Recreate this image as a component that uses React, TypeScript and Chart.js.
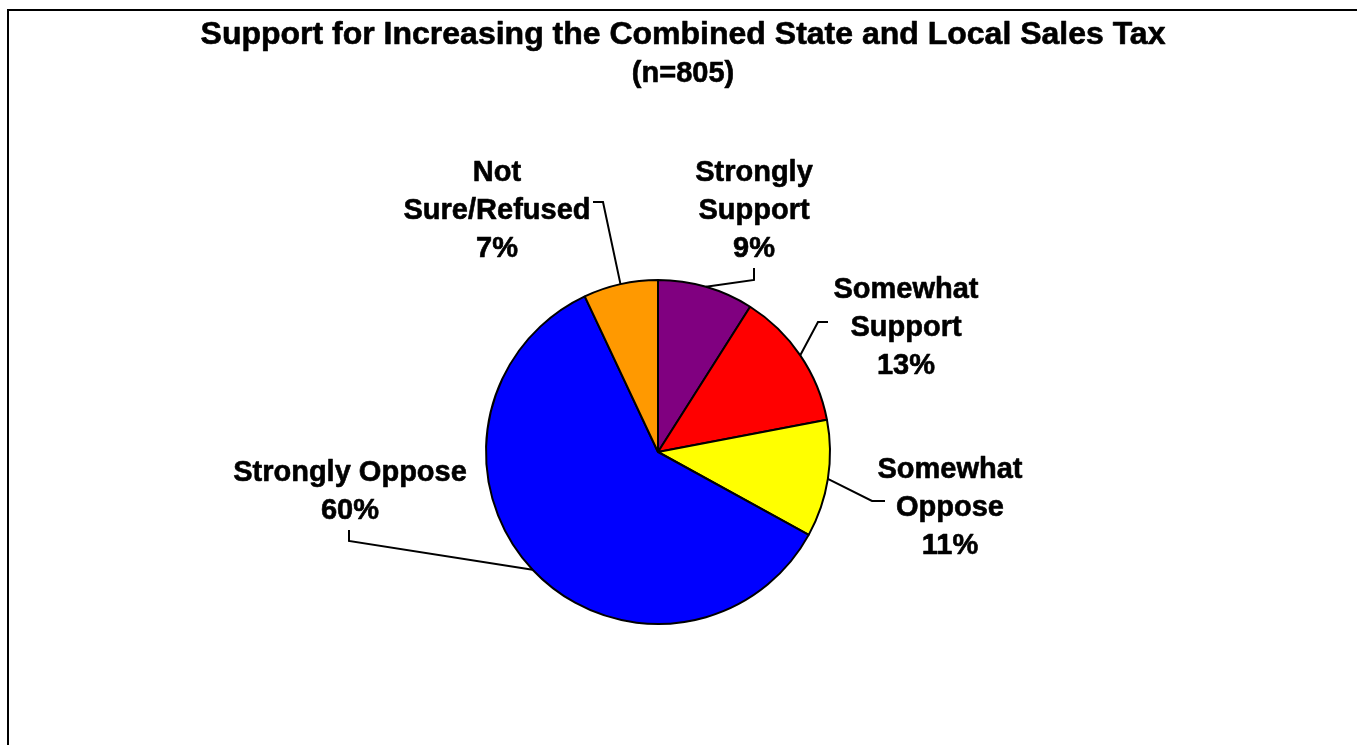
import React, { useEffect, useRef } from "react";
import { Chart, registerables } from "chart.js";

Chart.register(...registerables);

// ---- Data ----
const TITLE = "Support for Increasing the Combined State and Local Sales Tax";
const SUBTITLE = "(n=805)";
const categories = ["Strongly Support", "Somewhat Support", "Somewhat Oppose", "Strongly Oppose", "Not Sure/Refused"];
const categoryLines = [
  ["Strongly", "Support"],
  ["Somewhat", "Support"],
  ["Somewhat", "Oppose"],
  ["Strongly Oppose"],
  ["Not", "Sure/Refused"],
];
const values = [9, 13, 11, 60, 7];
const colors = ["#800080", "#FF0000", "#FFFF00", "#0000FF", "#FF9900"];

// ---- Layout (offsets from pie centre, px) ----
const labelCenter = [
  [96, -243],
  [248, -126],
  [292, 54],
  [-308, 37.5],
  [-161, -243],
];
const leaderElbow = [
  [96, -172],
  [160, -130],
  [214, 49],
  [-309, 89],
  [-55, -250],
];
const leaderEnd = [
  [96, -184],
  [170, -130],
  [227, 49],
  [-309, 78],
  [-65, -250],
];

const FONT_FAMILY = '"Liberation Sans", Arial, Helvetica, sans-serif';
const LABEL_SIZE = 29;
const LINE_H = 38;
const TEXT_WEIGHT_STROKE = 0.6;

function boldText(ctx: CanvasRenderingContext2D, t: string, x: number, y: number) {
  ctx.lineWidth = TEXT_WEIGHT_STROKE;
  ctx.strokeStyle = "#000";
  ctx.lineJoin = "round";
  ctx.strokeText(t, x, y);
  ctx.fillText(t, x, y);
}

const framePlugin = {
  id: "frameAndTitle",
  beforeDraw(chart: any) {
    const ctx = chart.ctx;
    ctx.save();
    ctx.fillStyle = "#ffffff";
    ctx.fillRect(0, 0, chart.width, chart.height);
    ctx.strokeStyle = "#000";
    ctx.lineWidth = 2;
    ctx.beginPath();
    ctx.moveTo(8, chart.height + 2);
    ctx.lineTo(8, 10);
    ctx.lineTo(chart.width + 2, 10);
    ctx.stroke();
    ctx.fillStyle = "#000";
    ctx.textAlign = "center";
    ctx.textBaseline = "alphabetic";
    ctx.font = `bold 32px ${FONT_FAMILY}`;
    boldText(ctx, TITLE, 683, 44);
    ctx.font = `bold 29px ${FONT_FAMILY}`;
    boldText(ctx, SUBTITLE, 683, 82);
    ctx.restore();
  },
};

const labelsPlugin = {
  id: "pieLabels",
  afterDatasetsDraw(chart: any) {
    const ctx = chart.ctx;
    const meta = chart.getDatasetMeta(0);
    ctx.save();
    meta.data.forEach((arc: any, i: number) => {
      const p = arc.getProps(["x", "y", "startAngle", "endAngle", "outerRadius"], true);
      const mid = (p.startAngle + p.endAngle) / 2;
      const ex = p.x + Math.cos(mid) * p.outerRadius;
      const ey = p.y + Math.sin(mid) * p.outerRadius;
      ctx.strokeStyle = "#000";
      ctx.lineWidth = 2;
      ctx.lineJoin = "miter";
      ctx.beginPath();
      ctx.moveTo(ex, ey);
      ctx.lineTo(p.x + leaderElbow[i][0], p.y + leaderElbow[i][1]);
      ctx.lineTo(p.x + leaderEnd[i][0], p.y + leaderEnd[i][1]);
      ctx.stroke();

      const lines = [...categoryLines[i], `${values[i]}%`];
      const cx = p.x + labelCenter[i][0];
      const cy = p.y + labelCenter[i][1];
      ctx.fillStyle = "#000";
      ctx.font = `bold ${LABEL_SIZE}px ${FONT_FAMILY}`;
      ctx.textAlign = "center";
      ctx.textBaseline = "alphabetic";
      const n = lines.length;
      lines.forEach((t, k) => {
        const lc = cy + (k - (n - 1) / 2) * LINE_H;
        boldText(ctx, t, cx, lc + 0.358 * LABEL_SIZE);
      });
    });
    ctx.restore();
  },
};

export default function App() {
  const ref = useRef<HTMLCanvasElement | null>(null);
  useEffect(() => {
    if (!ref.current) return;
    const chart = new Chart(ref.current, {
      type: "pie",
      data: {
        labels: categories,
        datasets: [
          {
            data: values,
            backgroundColor: colors,
            borderColor: "#000000",
            borderWidth: 2,
          },
        ],
      },
      options: {
        responsive: false,
        animation: false,
        devicePixelRatio: 1,
        layout: { padding: { left: 485, right: 526, top: 279, bottom: 120 } },
        plugins: {
          legend: { display: false },
          tooltip: { enabled: false },
          title: { display: false },
        },
      },
      plugins: [framePlugin, labelsPlugin],
    });
    return () => chart.destroy();
  }, []);
  return (
    <canvas
      ref={ref}
      width={1357}
      height={745}
      style={{ position: "fixed", left: 0, top: 0, width: 1357, height: 745 }}
    />
  );
}
